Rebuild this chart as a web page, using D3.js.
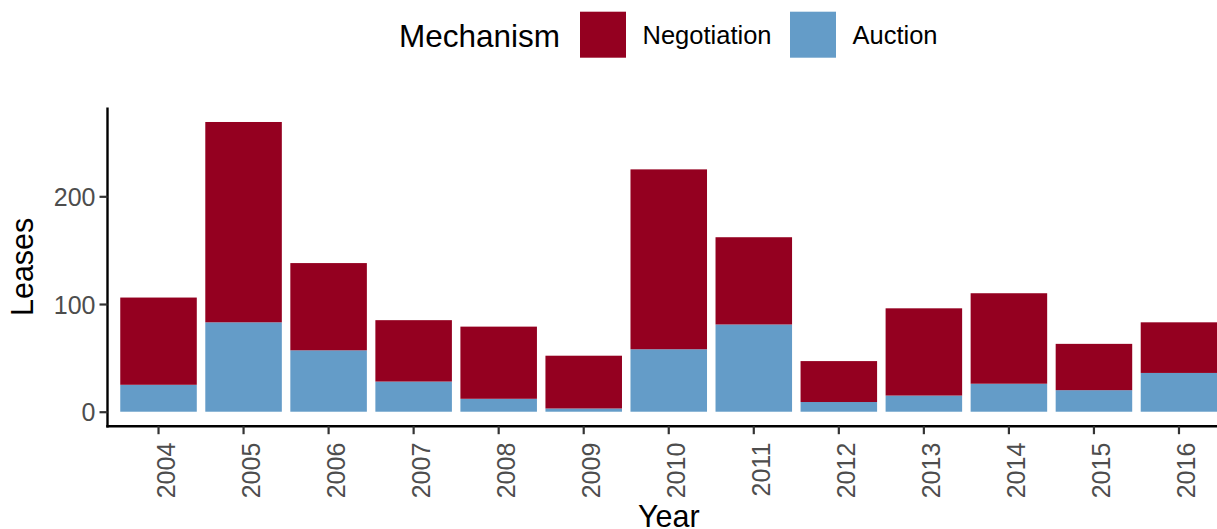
<!DOCTYPE html>
<html>
<head>
<meta charset="utf-8">
<script src="https://cdn.jsdelivr.net/npm/d3@7"></script>
<style>
  body { margin: 0; background: #fff; }
  text { font-family: "Liberation Sans", Arial, Helvetica, sans-serif; }
</style>
</head>
<body>
<svg id="chart" width="1217" height="529"></svg>
<script>
const years = ["2004","2005","2006","2007","2008","2009","2010","2011","2012","2013","2014","2015","2016"];
const auction =     [25, 83, 57, 28, 12,  3, 58, 81,  9, 15, 26, 20, 36];
const negotiation = [81, 186, 81, 57, 67, 49, 167, 81, 38, 81, 84, 43, 47];
const mechanisms = ["Negotiation", "Auction"];
const colors = ["#940020", "#649CC8"];
const yTicks = [0, 100, 200];

const svg = d3.select("#chart");
const W = 1217, H = 529;
const pLeft = 107.5, pRight = 1230, pTop = 107.5, pBottom = 426.2;

const totals = years.map((yr, i) => auction[i] + negotiation[i]);
const maxT = d3.max(totals);
const pad = maxT * 0.05;

const x = d3.scaleBand().domain(years).range([pLeft, pRight]).paddingInner(0.1).paddingOuter(0.15);
const y = d3.scaleLinear().domain([-pad, maxT + pad]).range([pBottom, pTop]);
const color = d3.scaleOrdinal().domain(mechanisms).range(colors);

const rows = years.map((yr, i) => ({year: yr, Auction: auction[i], Negotiation: negotiation[i]}));
const stack = d3.stack().keys(["Auction", "Negotiation"]);
const series = stack(rows);

const g = svg.append("g");
series.forEach(s => {
  g.selectAll(null).data(s).enter().append("rect")
    .attr("x", d => x(d.data.year))
    .attr("width", x.bandwidth())
    .attr("y", d => y(d[1]))
    .attr("height", d => y(d[0]) - y(d[1]))
    .attr("fill", color(s.key));
});

// Y axis
const yAxis = svg.append("g").attr("transform", `translate(${pLeft},0)`)
  .call(d3.axisLeft(y).tickValues(yTicks).tickSize(8).tickPadding(4).tickSizeOuter(0));
yAxis.select(".domain").attr("stroke", "#000").attr("stroke-width", 2.4)
  .attr("d", `M0,${pTop}V${pBottom + 1.2}`);
yAxis.selectAll(".tick line").attr("stroke", "#333").attr("stroke-width", 2.2);
yAxis.selectAll(".tick text").attr("fill", "#4D4D4D").style("font-size", "25px")
  .attr("dy", "0.36em");

// X axis
const xAxis = svg.append("g").attr("transform", `translate(0,${pBottom})`)
  .call(d3.axisBottom(x).tickSize(8).tickSizeOuter(0));
xAxis.select(".domain").attr("stroke", "#000").attr("stroke-width", 2.4)
  .attr("d", `M${pLeft - 1.2},0H${W + 20}`);
xAxis.selectAll(".tick line").attr("stroke", "#333").attr("stroke-width", 2.2);
xAxis.selectAll(".tick text").attr("fill", "#4D4D4D").style("font-size", "25px")
  .attr("text-anchor", "end")
  .attr("transform", "translate(16,16.5) rotate(-90)")
  .attr("x", 0).attr("y", 0).attr("dy", 0);

// Axis titles
svg.append("text").attr("transform", `translate(33,${(pTop + pBottom) / 2}) rotate(-90)`)
  .attr("text-anchor", "middle").style("font-size", "30.5px").attr("fill", "#000").text("Leases");
svg.append("text").attr("x", (pLeft + pRight) / 2).attr("y", 526.5)
  .attr("text-anchor", "middle").style("font-size", "30.5px").attr("fill", "#000").text("Year");

// Legend
const leg = svg.append("g");
leg.append("text").attr("x", 399).attr("y", 46.8).style("font-size", "31.5px").attr("fill", "#000").text("Mechanism");
const keyX = [580, 790];
mechanisms.forEach((m, i) => {
  leg.append("rect").attr("x", keyX[i]).attr("y", 11.7).attr("width", 46).attr("height", 46)
    .attr("fill", color(m));
  leg.append("text").attr("x", keyX[i] + 62.5).attr("y", 44.3).style("font-size", "25.5px")
    .attr("fill", "#000").text(m);
});
</script>
</body>
</html>
